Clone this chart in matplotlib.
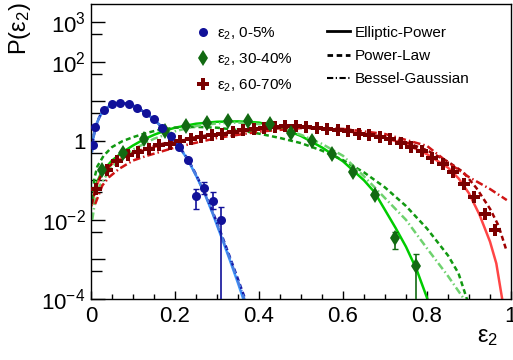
import numpy as np
import matplotlib
matplotlib.use("Agg")
import matplotlib.pyplot as plt
from matplotlib.lines import Line2D
from matplotlib.ticker import FixedLocator, FixedFormatter, MultipleLocator

plt.rcParams['font.family'] = ['Liberation Sans', 'DejaVu Sans']
plt.rcParams['mathtext.fontset'] = 'custom'
plt.rcParams['mathtext.rm'] = 'Liberation Sans'
plt.rcParams['mathtext.it'] = 'Liberation Sans:italic'
plt.rcParams['mathtext.bf'] = 'Liberation Sans:bold'

# ---------------- data points ----------------
blue_x = [0.004, 0.01, 0.03, 0.05, 0.07, 0.09, 0.11, 0.13, 0.15, 0.17, 0.19, 0.21, 0.23,
          0.25, 0.27, 0.29, 0.31]
blue_p = [0.79, 2.22, 5.85, 8.30, 9.0, 8.65, 6.84, 5.02, 3.46, 2.10, 1.30, 0.684, 0.324,
          0.0412, 0.0635, 0.0308, 0.0102]
blue_err_x = [0.25, 0.27, 0.29, 0.31]
blue_err_p = [0.0412, 0.0635, 0.0308, 0.0102]
blue_err_lo = [0.019, 0.045, 0.019, 1e-7]
blue_err_hi = [0.061, 0.090, 0.050, 0.021]

green_x = [0.025, 0.075, 0.125, 0.175, 0.225, 0.275, 0.325, 0.375, 0.425, 0.475, 0.525,
           0.575, 0.625, 0.675, 0.725, 0.775]
green_p = [0.178, 0.50, 1.12, 1.76, 2.35, 2.86, 3.08, 3.08, 2.69, 1.58, 0.977, 0.468,
           0.162, 0.0427, 0.00347, 0.00068]
green_err_x = [0.725, 0.775]
green_err_p = [0.00347, 0.00068]
green_err_lo = [0.00186, 1e-7]
green_err_hi = [0.0049, 0.00138]

red_x = [0.0125, 0.0375, 0.0625, 0.0875, 0.1125, 0.1375, 0.1625, 0.1875, 0.2125, 0.2375,
         0.2625, 0.2875, 0.3125, 0.3375, 0.3625, 0.3875, 0.4125, 0.4375, 0.4625, 0.4875,
         0.5125, 0.5375, 0.5625, 0.5875, 0.6125, 0.6375, 0.6625, 0.6875, 0.7125, 0.7375,
         0.7625, 0.7875, 0.8125, 0.8375, 0.8625, 0.8875, 0.9125, 0.9375, 0.9625]
red_p = [0.061, 0.177, 0.299, 0.443, 0.518, 0.627, 0.760, 0.839, 0.959, 1.125,
         1.24, 1.36, 1.50, 1.66, 1.82, 1.93, 2.09, 2.22, 2.36, 2.36,
         2.22, 2.09, 2.01, 1.82, 1.72, 1.50, 1.36, 1.26, 1.09, 0.89,
         0.71, 0.542, 0.372, 0.263, 0.158, 0.0794, 0.0372, 0.0141, 0.0054]

# ---------------- fit curves (log10 P) ----------------
blue_ep_x = [0.002, 0.005, 0.01, 0.02, 0.03, 0.05, 0.07, 0.09, 0.11, 0.13, 0.15, 0.17, 0.19,
             0.21, 0.23, 0.25, 0.27, 0.29, 0.31, 0.33, 0.35, 0.3626, 0.37]
blue_ep_log = [-0.25, 0.05, 0.34, 0.60, 0.77, 0.92, 0.955, 0.935, 0.84, 0.70, 0.54, 0.33, 0.11,
               -0.16, -0.47, -0.88, -1.32, -1.85, -2.42, -3.0, -3.6, -4.0, -4.3]
blue_pl_x = [0.002, 0.005, 0.01, 0.02, 0.03, 0.05, 0.07, 0.09, 0.11, 0.13, 0.15, 0.17, 0.19,
             0.21, 0.23, 0.25, 0.27, 0.29, 0.31, 0.33, 0.35, 0.367, 0.375]
blue_pl_log = [-0.28, 0.03, 0.33, 0.60, 0.77, 0.92, 0.955, 0.935, 0.84, 0.70, 0.54, 0.33, 0.11,
               -0.15, -0.45, -0.85, -1.29, -1.80, -2.35, -2.92, -3.5, -4.0, -4.3]
blue_bg_x = [0.002, 0.005, 0.01, 0.02, 0.03, 0.05, 0.07, 0.09, 0.11, 0.13, 0.15, 0.17, 0.19,
             0.21, 0.23, 0.25, 0.27, 0.29, 0.31, 0.33, 0.35, 0.365, 0.372]
blue_bg_log = [-0.3, 0.02, 0.33, 0.60, 0.77, 0.92, 0.955, 0.935, 0.84, 0.70, 0.54, 0.33, 0.11,
               -0.16, -0.46, -0.87, -1.31, -1.83, -2.39, -2.96, -3.55, -4.0, -4.3]

green_ep_x = [0.002, 0.01, 0.025, 0.05, 0.075, 0.1, 0.125, 0.15, 0.175, 0.2, 0.25, 0.3, 0.35,
              0.4, 0.45, 0.5, 0.55, 0.6, 0.625, 0.65, 0.675, 0.7, 0.725, 0.75, 0.775, 0.8, 0.81]
green_ep_log = [-1.62, -1.15, -0.80, -0.50, -0.29, -0.12, 0.03, 0.15, 0.25, 0.33, 0.43, 0.48,
                0.49, 0.46, 0.33, 0.12, -0.17, -0.52, -0.76, -1.0, -1.3, -1.75, -2.2, -2.68,
                -3.25, -3.97, -4.4]
green_pl_x = [0.003, 0.008, 0.015, 0.03, 0.05, 0.075, 0.1, 0.13, 0.16, 0.2, 0.25, 0.3, 0.35,
              0.4, 0.45, 0.5, 0.55, 0.6, 0.65, 0.7, 0.75, 0.8, 0.85, 0.875, 0.895, 0.9]
green_pl_log = [-1.5, -0.95, -0.65, -0.38, -0.16, -0.01, 0.09, 0.19, 0.27, 0.33, 0.35, 0.33,
                0.27, 0.18, 0.07, -0.06, -0.25, -0.49, -0.80, -1.18, -1.65, -2.22, -2.9,
                -3.35, -4.0, -4.2]
green_bg_x = [0.003, 0.01, 0.02, 0.05, 0.1, 0.15, 0.2, 0.25, 0.3, 0.35, 0.4, 0.45, 0.5, 0.55,
              0.6, 0.65, 0.7, 0.75, 0.8, 0.85, 0.888, 0.9]
green_bg_log = [-2.0, -1.5, -1.15, -0.65, -0.22, 0.05, 0.24, 0.37, 0.44, 0.46, 0.42, 0.32,
                0.15, -0.08, -0.38, -0.9, -1.45, -2.0, -2.72, -3.42, -4.0, -4.2]

red_ep_x = [0.002, 0.01, 0.025, 0.05, 0.075, 0.1, 0.15, 0.2, 0.25, 0.3, 0.35, 0.4, 0.45, 0.5,
            0.55, 0.6, 0.65, 0.7, 0.75, 0.8, 0.85, 0.875, 0.9, 0.925, 0.95, 0.965, 0.979, 0.985]
red_ep_log = [-1.62, -1.22, -0.85, -0.58, -0.43, -0.32, -0.16, -0.03, 0.08, 0.16, 0.23, 0.29,
              0.35, 0.36, 0.32, 0.26, 0.17, 0.07, -0.09, -0.34, -0.68, -0.95, -1.33, -1.87,
              -2.55, -3.1, -4.0, -4.5]
red_pl_x = [0.003, 0.0125, 0.025, 0.05, 0.1, 0.15, 0.2, 0.3, 0.4, 0.5, 0.6, 0.7, 0.75, 0.8,
            0.85, 0.886, 0.918, 0.95, 0.97, 0.99]
red_pl_log = [-1.6, -1.12, -0.86, -0.58, -0.3, -0.13, 0.0, 0.18, 0.29, 0.34, 0.27, 0.09,
              -0.04, -0.24, -0.53, -0.79, -1.2, -1.72, -2.14, -2.8]
red_bg_x = [0.01, 0.027, 0.043, 0.067, 0.1, 0.13, 0.2, 0.3, 0.4, 0.5, 0.6, 0.7, 0.8, 0.85,
            0.9, 0.95, 0.99]
red_bg_log = [-1.6, -1.13, -0.92, -0.71, -0.5, -0.39, -0.17, 0.07, 0.23, 0.32, 0.30, 0.17,
              -0.13, -0.55, -0.92, -1.22, -1.5]

series_labels = ['ε$_{2}$, 0-5%', 'ε$_{2}$, 30-40%', 'ε$_{2}$, 60-70%']
model_labels = ['Elliptic-Power', 'Power-Law', 'Bessel-Gaussian']

y_major = [1e-4, 1e-3, 1e-2, 1e-1, 1, 10, 100, 1000]
y_major_labels = ['$10^{-4}$', '', '$10^{-2}$', '', '1', '', '$10^{2}$', '$10^{3}$']
y_minor = [5e-4, 5e-3, 5e-2, 0.5, 5, 50, 500]
x_major = [0, 0.2, 0.4, 0.6, 0.8, 1.0]
x_major_labels = ['0', '0.2', '0.4', '0.6', '0.8', '1']

# ---------------- styles ----------------
C_BLUE_M, C_GREEN_M, C_RED_M = '#111199', '#126a12', '#7a0000'
C_BLUE = ('#3d9bff', '#1a1aa6', '#4a7fe0')
C_GREEN = ('#00cc00', '#119911', '#6fd26f')
C_RED = ('#ff4545', '#a00000', '#d01515')
LW = 1.8
DASH = (0, (2.0, 1.3))
DASHDOT = (0, (3.0, 1.2, 0.6, 1.2))

fig = plt.figure(figsize=(5.13, 3.6), dpi=100)
ax = fig.add_axes([91 / 513, 1 - 299 / 360, 420 / 513, 295 / 360])
ax.set_yscale('log')
ax.set_xlim(0, 1)
ax.set_ylim(1e-4, 2860)

def curve(x, lg, color, ls):
    ax.plot(x, 10 ** np.asarray(lg), color=color, lw=LW, ls=ls, zorder=2)

for (x, lg), c in zip([(blue_ep_x, blue_ep_log), (green_ep_x, green_ep_log), (red_ep_x, red_ep_log)],
                      [C_BLUE[0], C_GREEN[0], C_RED[0]]):
    curve(x, lg, c, '-')
for (x, lg), c in zip([(blue_pl_x, blue_pl_log), (green_pl_x, green_pl_log), (red_pl_x, red_pl_log)],
                      [C_BLUE[1], C_GREEN[1], C_RED[1]]):
    curve(x, lg, c, DASH)
for (x, lg), c in zip([(blue_bg_x, blue_bg_log), (green_bg_x, green_bg_log), (red_bg_x, red_bg_log)],
                      [C_BLUE[2], C_GREEN[2], C_RED[2]]):
    curve(x, lg, c, DASHDOT)

# error bars
be = np.array(blue_err_p)
ax.errorbar(blue_err_x, be, yerr=[be - np.array(blue_err_lo), np.array(blue_err_hi) - be],
            fmt='none', ecolor=C_BLUE_M, elinewidth=1.2, capsize=2, zorder=3)
ge = np.array(green_err_p)
ax.errorbar(green_err_x, ge, yerr=[ge - np.array(green_err_lo), np.array(green_err_hi) - ge],
            fmt='none', ecolor=C_GREEN_M, elinewidth=1.2, capsize=2, zorder=3)

h_red, = ax.plot(red_x, red_p, 'P', color=C_RED_M, ms=8.5, mew=0, ls='none', zorder=4)
h_green, = ax.plot(green_x, green_p, 'd', color=C_GREEN_M, ms=8.5, mew=0, ls='none', zorder=5)
h_blue, = ax.plot(blue_x, blue_p, 'o', color=C_BLUE_M, ms=6.5, mew=0, ls='none', zorder=6)

# axes styling
ax.yaxis.set_major_locator(FixedLocator(y_major))
ax.yaxis.set_major_formatter(FixedFormatter(y_major_labels))
ax.yaxis.set_minor_locator(FixedLocator(y_minor))
ax.yaxis.set_minor_formatter(FixedFormatter([''] * len(y_minor)))
ax.xaxis.set_major_locator(FixedLocator(x_major))
ax.xaxis.set_major_formatter(FixedFormatter(x_major_labels))
ax.xaxis.set_minor_locator(MultipleLocator(0.05))
ax.tick_params(axis='both', which='both', direction='in', top=False, right=False, width=1.0)
ax.tick_params(axis='y', which='major', length=10, labelsize=16, pad=4)
ax.tick_params(axis='y', which='minor', length=8)
ax.tick_params(axis='x', which='major', length=5.5, labelsize=16, pad=5)
ax.tick_params(axis='x', which='minor', length=3.5)
for s in ax.spines.values():
    s.set_linewidth(1.0)

ax.set_ylabel('P(ε$_{2}$)', fontsize=17)
ax.yaxis.set_label_coords(-0.138, 0.915)
ax.set_xlabel('ε$_{2}$', fontsize=17)
ax.xaxis.set_label_coords(0.945, -0.09)

# legends
leg1 = ax.legend([h_blue, h_green, h_red], series_labels, loc='upper left',
                 bbox_to_anchor=(0.2486, 0.926), frameon=False, fontsize=11,
                 borderpad=0, borderaxespad=0, handlelength=1.0, handletextpad=0.4,
                 labelspacing=0.61)
ax.add_artist(leg1)
model_handles = [Line2D([], [], color='black', lw=2.0, ls='-'),
                 Line2D([], [], color='black', lw=2.0, ls=DASH),
                 Line2D([], [], color='black', lw=1.5, ls=DASHDOT)]
ax.legend(model_handles, model_labels, loc='upper left', bbox_to_anchor=(0.562, 0.926),
          frameon=False, fontsize=11, borderpad=0, borderaxespad=0, handlelength=1.5,
          handletextpad=0.33, labelspacing=0.61)

fig.savefig('out.png', dpi=100)
